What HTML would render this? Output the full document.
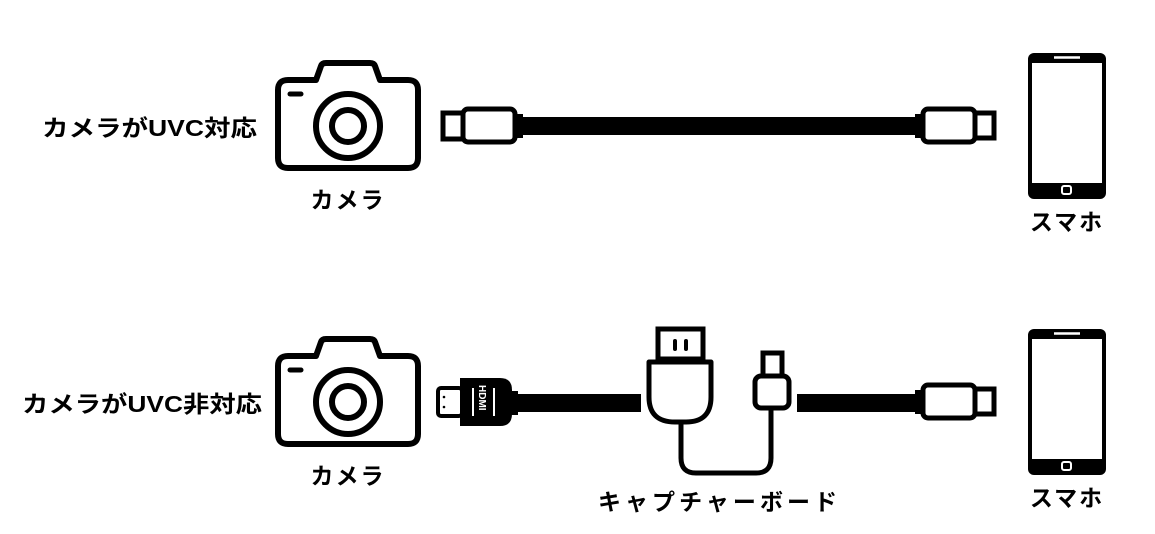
<!DOCTYPE html>
<html><head><meta charset="utf-8"><style>
html,body{margin:0;padding:0;background:#fff;}
svg{display:block;}
text{font-family:"Liberation Sans","Noto Sans CJK JP",sans-serif;font-weight:700;fill:#000;}
</style></head><body>
<svg width="1155" height="534" viewBox="0 0 1155 534" xmlns="http://www.w3.org/2000/svg">
<defs>
<g id="cam">
  <path d="M288 80 H316 L321 66 Q322 63 326 63 H370 Q374 63 375 66 L380 80 H408 Q418 80 418 90 V158 Q418 168 408 168 H288 Q278 168 278 158 V90 Q278 80 288 80 Z" fill="none" stroke="#000" stroke-width="6" stroke-linejoin="round"/>
  <circle cx="348" cy="126" r="32" fill="none" stroke="#000" stroke-width="6"/>
  <circle cx="348" cy="126" r="16" fill="none" stroke="#000" stroke-width="6"/>
  <line x1="290" y1="94" x2="301" y2="94" stroke="#000" stroke-width="5" stroke-linecap="round"/>
</g>
<g id="phone">
  <rect x="1028" y="53" width="78" height="146" rx="6" fill="#000"/>
  <rect x="1032" y="63" width="70" height="120" fill="#fff"/>
  <line x1="1054" y1="57.5" x2="1080" y2="57.5" stroke="#fff" stroke-width="2.5"/>
  <rect x="1062" y="186" width="9" height="8" rx="2" fill="none" stroke="#fff" stroke-width="2"/>
</g>
<g id="rconn">
  <rect x="915" y="114" width="8" height="24" fill="#000"/>
  <rect x="923" y="109" width="52" height="33" rx="5" fill="#fff" stroke="#000" stroke-width="5"/>
  <rect x="975" y="113" width="19" height="25" fill="#fff" stroke="#000" stroke-width="5"/>
</g>
</defs>

<!-- Row 1 -->
<text x="42" y="136" font-size="23" textLength="215" lengthAdjust="spacingAndGlyphs">カメラがUVC対応</text>
<use href="#cam"/>
<text x="348" y="208" font-size="23" text-anchor="middle" letter-spacing="2">カメラ</text>
<rect x="443" y="113" width="20" height="26" fill="#fff" stroke="#000" stroke-width="5"/>
<rect x="463" y="109" width="52" height="33" rx="5" fill="#fff" stroke="#000" stroke-width="5"/>
<rect x="515" y="114" width="8" height="24" fill="#000"/>
<rect x="521" y="117" width="398" height="18" fill="#000"/>
<use href="#rconn"/>
<use href="#phone"/>
<text x="1067" y="230" font-size="23" text-anchor="middle" letter-spacing="2">スマホ</text>

<!-- Row 2 -->
<text x="22" y="412" font-size="23" textLength="240" lengthAdjust="spacingAndGlyphs">カメラがUVC非対応</text>
<use href="#cam" transform="translate(0,276)"/>
<text x="348" y="484" font-size="23" text-anchor="middle" letter-spacing="2">カメラ</text>

<!-- HDMI -->
<rect x="438" y="388" width="24" height="28" rx="3" fill="#fff" stroke="#000" stroke-width="4"/>
<circle cx="444" cy="397" r="1.3" fill="#000"/><circle cx="444" cy="407" r="1.3" fill="#000"/>
<path d="M460 378 H500 Q512 378 512 390 V414 Q512 426 500 426 H460 Z" fill="#000"/>
<line x1="473" y1="388" x2="473" y2="416" stroke="#fff" stroke-width="2"/>
<line x1="494" y1="388" x2="494" y2="416" stroke="#fff" stroke-width="2"/>
<text x="0" y="0" font-size="10" style="fill:#fff" transform="translate(479,385) rotate(90)">HDMI</text>
<rect x="511" y="391" width="7" height="24" fill="#000"/>
<rect x="517" y="394" width="124" height="18" fill="#000"/>

<!-- capture board -->
<rect x="658" y="329" width="45" height="30" fill="#fff" stroke="#000" stroke-width="5"/>
<line x1="675" y1="341" x2="675" y2="349" stroke="#000" stroke-width="4" stroke-linecap="round"/>
<line x1="686" y1="341" x2="686" y2="349" stroke="#000" stroke-width="4" stroke-linecap="round"/>
<path d="M649 362 H711 V397 Q711 422 686 422 H675 Q649 422 649 397 Z" fill="#fff" stroke="#000" stroke-width="5" stroke-linejoin="round"/>
<path d="M681 422 V458 Q681 473 696 473 H756 Q771 473 771 458 V408" fill="none" stroke="#000" stroke-width="5"/>
<rect x="763" y="353" width="19" height="23" fill="#fff" stroke="#000" stroke-width="5"/>
<rect x="755" y="376" width="34" height="32" rx="6" fill="#fff" stroke="#000" stroke-width="5"/>
<rect x="797" y="394" width="124" height="18" fill="#000"/>
<use href="#rconn" transform="translate(0,276)"/>
<text x="598" y="510" font-size="23" textLength="239" lengthAdjust="spacing">キャプチャーボード</text>

<use href="#phone" transform="translate(0,276)"/>
<text x="1067" y="506" font-size="23" text-anchor="middle" letter-spacing="2">スマホ</text>
</svg>
</body></html>
